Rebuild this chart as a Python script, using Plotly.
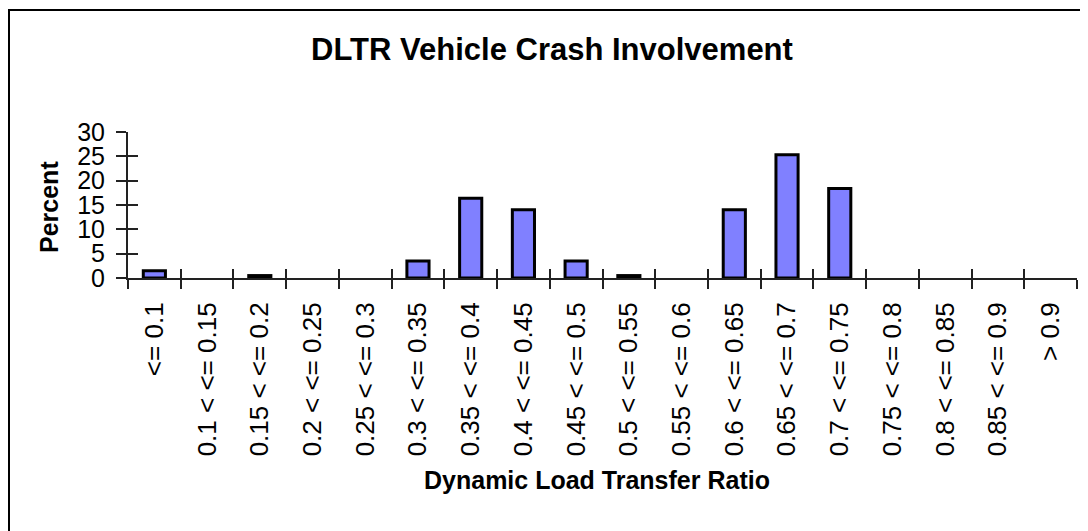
import plotly.graph_objects as go

categories = ["<= 0.1", "0.1 < <= 0.15", "0.15 < <= 0.2", "0.2 < <= 0.25", "0.25 < <= 0.3",
              "0.3 < <= 0.35", "0.35 < <= 0.4", "0.4 < <= 0.45", "0.45 < <= 0.5", "0.5 < <= 0.55",
              "0.55 < <= 0.6", "0.6 < <= 0.65", "0.65 < <= 0.7", "0.7 < <= 0.75", "0.75 < <= 0.8",
              "0.8 < <= 0.85", "0.85 < <= 0.9", "> 0.9"]
percent = [1.5, 0, 0.5, 0, 0, 3.5, 16.4, 14.0, 3.5, 0.5, 0, 14.0, 25.3, 18.4, 0, 0, 0, 0]
y_ticks = [0, 5, 10, 15, 20, 25, 30]

title_text = "DLTR Vehicle Crash Involvement"
x_title = "Dynamic Load Transfer Ratio"
y_title = "Percent"

W, H = 1088, 531
OFF = 8  # page offset of the figure in the browser
L, R, T, B = 128 - OFF, 19, 132 - OFF, H - (278 - OFF)
pw, ph = W - L - R, H - T - B
FONT = "Arial, Liberation Sans, sans-serif"

def px(x):
    return (x - OFF - L) / pw

def py(y):
    return (H - B - (y - OFF)) / ph

bar_line_widths = [3 if v > 0 else 0 for v in percent]

fig = go.Figure()
fig.add_trace(go.Bar(x=categories, y=percent, width=0.42,
                     marker=dict(color="#8080FF", line=dict(color="black", width=bar_line_widths)),
                     showlegend=False))
# invisible trace to carry the inner tick axes
fig.add_trace(go.Bar(x=categories, y=percent, xaxis="x2", yaxis="y2", width=0.42,
                     marker=dict(color="rgba(0,0,0,0)", line=dict(width=0)),
                     showlegend=False, hoverinfo="skip"))

axis_common = dict(showgrid=False, zeroline=False, linecolor="#222", linewidth=2,
                   tickcolor="#222", tickwidth=2)

fig.update_layout(
    width=W, height=H,
    margin=dict(l=L, r=R, t=T, b=B),
    paper_bgcolor="white", plot_bgcolor="white",
    font=dict(family=FONT, color="black", size=25),
    xaxis=dict(type="category", categoryorder="array", categoryarray=categories,
               range=[-0.5, len(categories) - 0.5],
               tickson="boundaries", ticks="outside", ticklen=9, tickangle=-90,
               ticklabelstandoff=12,
               tickfont=dict(size=26), showline=True, **axis_common),
    yaxis=dict(range=[0, 30], tickvals=y_ticks, ticks="outside", ticklen=10,
               ticklabelstandoff=6,
               tickfont=dict(size=25), showline=True, **axis_common),
    xaxis2=dict(type="category", categoryorder="array", categoryarray=categories,
                range=[-0.5, len(categories) - 0.5], overlaying="x", anchor="y2",
                tickson="boundaries", ticks="inside", ticklen=9, showticklabels=False,
                showline=False, showgrid=False, zeroline=False, tickcolor="#222", tickwidth=2),
    yaxis2=dict(range=[0, 30], tickvals=y_ticks, overlaying="y", anchor="x2",
                ticks="inside", ticklen=10, showticklabels=False,
                showline=False, showgrid=False, zeroline=False, tickcolor="#222", tickwidth=2),
    title=dict(text="<b>" + title_text + "</b>", x=0.5, xanchor="center",
               y=1 - (49 - OFF) / H, yanchor="middle", yref="container",
               font=dict(family=FONT, size=31, color="black")),
    annotations=[
        dict(text="<b>" + x_title + "</b>", xref="paper", yref="paper",
             x=px(597), y=py(480), xanchor="center", yanchor="middle",
             showarrow=False, font=dict(family=FONT, size=25, color="black")),
        dict(text="<b>" + y_title + "</b>", xref="paper", yref="paper",
             x=px(49), y=py(207), xanchor="center", yanchor="middle", textangle=-90,
             showarrow=False, font=dict(family=FONT, size=25, color="black")),
    ],
    shapes=[dict(type="rect", xref="paper", yref="paper",
                 x0=px(9), x1=px(1110), y0=py(10), y1=py(560),
                 line=dict(color="black", width=2), fillcolor="rgba(0,0,0,0)", layer="below")],
)

fig.write_html("out.html")
